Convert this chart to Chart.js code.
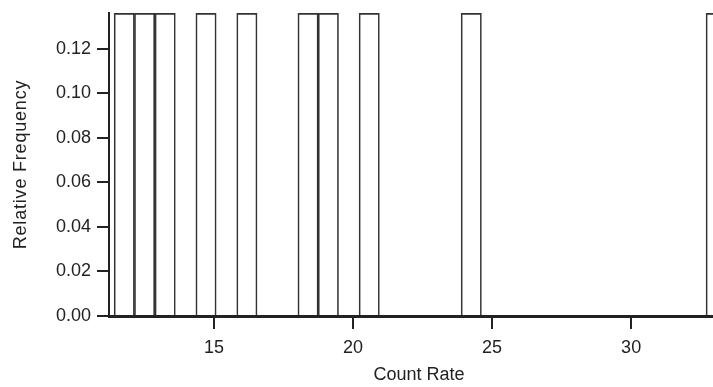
<!DOCTYPE html>
<html>
<head>
<meta charset="utf-8">
<script src="https://cdn.jsdelivr.net/npm/chart.js@4"></script>
<style>
  html, body { margin: 0; padding: 0; background: #fff; overflow: hidden; }
  #chart { display: block; }
</style>
</head>
<body>
<!-- the plot in the original runs past the right edge; the window cuts it off -->
<canvas id="chart" width="729" height="387"></canvas>
<script>
// histogram bins (centres) that hold counts, and their relative frequency
const binCenters = [11.77, 12.50, 13.24, 14.71, 16.18, 18.38, 19.11, 20.58, 24.25, 33.06];
const relFreq = [0.136, 0.136, 0.136, 0.136, 0.136, 0.136, 0.136, 0.136, 0.136, 0.136];

const xTickValues = [15, 20, 25, 30];
const yTickValues = [0, 0.02, 0.04, 0.06, 0.08, 0.10, 0.12];

const ink = '#222';
const fontFamily = '"Liberation Sans", Arial, sans-serif';

document.addEventListener('DOMContentLoaded', () => {
    const data = {
        datasets: [{
            label: 'Relative Frequency',
            data: binCenters.map((x, i) => ({ x: x, y: relFreq[i] })),
            backgroundColor: 'rgba(255,255,255,0)',
            borderColor: '#333',
            borderWidth: { top: 1.5, left: 1, right: 1, bottom: 0 },
            barPercentage: 1,
            categoryPercentage: 1,
        }],
    };

    const config = {
        type: 'bar',
        data: data,
        options: {
            responsive: false,
            animation: false,
            layout: {
                padding: { top: 13, right: 0, left: 0, bottom: 0 }
            },
            plugins: {
                legend: { display: false },
                tooltip: { enabled: false },
            },
            scales: {
                x: {
                    type: 'linear',
                    min: 11.22,
                    max: 33.52,
                    offset: false,
                    afterBuildTicks: (scale) => {
                        scale.ticks = xTickValues.map(v => ({ value: v }));
                    },
                    afterFit: (scale) => { scale.height = 71; },
                    border: { display: true, color: ink, width: 3 },
                    grid: {
                        offset: false,
                        drawOnChartArea: false,
                        drawTicks: true,
                        tickLength: 13,
                        color: ink,
                        lineWidth: 2,
                    },
                    ticks: {
                        color: ink,
                        padding: 8,
                        maxRotation: 0,
                        autoSkip: false,
                        font: { family: fontFamily, size: 18 },
                    },
                    title: {
                        display: true,
                        text: 'Count Rate',
                        color: ink,
                        padding: { top: 0, bottom: 1 },
                        font: { family: fontFamily, size: 18 },
                    }
                },
                y: {
                    min: 0,
                    max: 0.136,
                    afterBuildTicks: (scale) => {
                        scale.ticks = yTickValues.map(v => ({ value: v }));
                    },
                    afterFit: (scale) => {
                        scale.width = 109;
                        scale.paddingTop = 0;
                        scale.paddingBottom = 0;
                        // the original y title is set a little loose
                        if (!scale._spacedTitle) {
                            const orig = scale.drawTitle;
                            scale.drawTitle = function () {
                                const c = this.ctx;
                                c.save();
                                c.letterSpacing = '0.8px';
                                orig.call(this);
                                c.restore();
                            };
                            scale._spacedTitle = true;
                        }
                    },
                    border: { display: true, color: ink, width: 2 },
                    grid: {
                        drawOnChartArea: false,
                        drawTicks: true,
                        tickLength: 12,
                        color: ink,
                        lineWidth: 2,
                    },
                    ticks: {
                        color: ink,
                        padding: 6,
                        autoSkip: false,
                        callback: (v) => Number(v).toFixed(2),
                        font: { family: fontFamily, size: 18 },
                    },
                    title: {
                        display: true,
                        text: 'Relative Frequency',
                        color: ink,
                        padding: { top: 10, bottom: 0 },
                        font: { family: fontFamily, size: 18 },
                    }
                }
            }
        }
    };

    const ctx = document.getElementById('chart').getContext('2d');
    new Chart(ctx, config);
});
</script>
</body>
</html>
